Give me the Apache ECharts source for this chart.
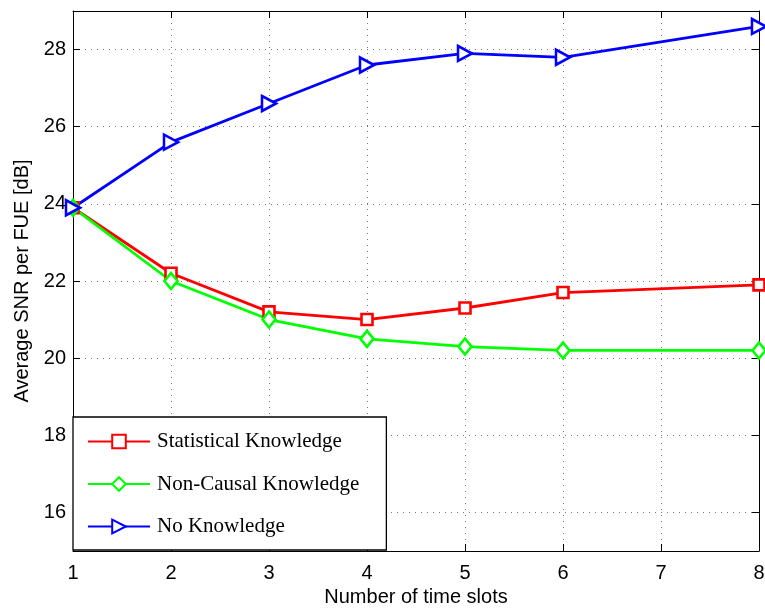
<!DOCTYPE html>
<html>
<head>
<meta charset="utf-8">
<script src="https://cdn.jsdelivr.net/npm/echarts@6/dist/echarts.min.js"></script>
<style>html,body{margin:0;padding:0;background:#fff}#c{width:765px;height:608px}</style>
</head>
<body>
<div id="c"></div>
<script>
const timeSlots = [1, 2, 3, 4, 5, 6, 8];
const statistical = [23.9, 22.2, 21.2, 21.0, 21.3, 21.7, 21.9];
const nonCausal = [23.9, 22.0, 21.0, 20.5, 20.3, 20.2, 20.2];
const noKnowledge = [23.9, 25.6, 26.6, 27.6, 27.9, 27.8, 28.6];
const seriesNames = ['Statistical Knowledge', 'Non-Causal Knowledge', 'No Knowledge'];
const xName = 'Number of time slots';
const yName = 'Average SNR per FUE [dB]';

const pair = (vals) => timeSlots.map((x, i) => [x, vals[i]]);
const chart = echarts.init(document.getElementById('c'));
const sansFont = 'Liberation Sans';
const tickStyle = { show: true, inside: true, length: 7, lineStyle: { color: '#000', width: 1 } };
const gridLine = { show: true, lineStyle: { color: '#777', width: 1, type: [1, 5] } };
const axisLine = { show: true, onZero: false, lineStyle: { color: '#000', width: 1 } };
const triRight = 'path://M0,0 L10,5 L0,10 Z';

function mkSeries(name, vals, color, symbol, size) {
  return {
    name: name, type: 'line', data: pair(vals), symbol: symbol, symbolSize: size,
    showAllSymbol: true,
    lineStyle: { color: color, width: 2.8 },
    itemStyle: { color: '#fff', borderColor: color, borderWidth: 2.6 },
    emphasis: { disabled: true }, animation: false, z: 3
  };
}

chart.setOption({
  animation: false,
  grid: { left: 73, top: 11, right: 6, bottom: 57, containLabel: false, outerBoundsMode: 'none' },
  xAxis: [
    { type: 'value', min: 1, max: 8, interval: 1, name: xName, nameLocation: 'middle', nameGap: 36,
      nameTextStyle: { fontFamily: sansFont, fontSize: 20, color: '#000' },
      axisLine: axisLine, axisTick: tickStyle, splitLine: gridLine,
      axisLabel: { fontFamily: sansFont, fontSize: 20, color: '#000', margin: 12 } },
    { type: 'value', min: 1, max: 8, interval: 1, position: 'top',
      axisLine: axisLine, axisTick: tickStyle, splitLine: { show: false }, axisLabel: { show: false } }
  ],
  yAxis: [
    { type: 'value', min: 15, max: 29, splitNumber: 7, name: yName, nameLocation: 'middle', nameGap: 38,
      nameTextStyle: { fontFamily: sansFont, fontSize: 20, color: '#000' },
      axisLine: axisLine, axisTick: tickStyle, splitLine: gridLine,
      axisLabel: { fontFamily: sansFont, fontSize: 20, color: '#000', margin: 7, showMinLabel: false, showMaxLabel: false,
        formatter: v => (v % 2 === 0 ? String(v) : '') } },
    { type: 'value', min: 15, max: 29, splitNumber: 7, position: 'right',
      axisLine: axisLine, axisTick: tickStyle, splitLine: { show: false }, axisLabel: { show: false } }
  ],
  legend: {
    orient: 'vertical', left: 73, top: 417,
    padding: [14, 27, 13, 14], itemGap: 21.5, itemWidth: 62, itemHeight: 17,
    backgroundColor: '#fff', borderColor: '#000', borderWidth: 1.3, borderRadius: 0,
    textStyle: { fontFamily: 'Liberation Serif', fontSize: 21, color: '#000', padding: [0, 0, 0, 2] },
    data: seriesNames, selectedMode: false
  },
  series: [
    mkSeries(seriesNames[0], statistical, '#ff0000', 'rect', 11),
    mkSeries(seriesNames[1], nonCausal, '#00ff00', 'diamond', [13, 16]),
    mkSeries(seriesNames[2], noKnowledge, '#0000ff', triRight, [14, 15])
  ]
});
</script>
</body>
</html>
